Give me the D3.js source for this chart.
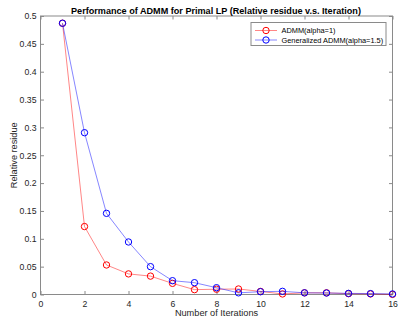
<!DOCTYPE html>
<html><head><meta charset="utf-8">
<script src="https://cdn.jsdelivr.net/npm/d3@7"></script>
<style>body{margin:0;background:#fff;}svg{display:block;font-family:"Liberation Sans",Arial,sans-serif;}</style>
</head><body><svg id="c" width="398" height="327"></svg>
<script>
const iterations = [1,2,3,4,5,6,7,8,9,10,11,12,13,14,15,16];
const admm = [0.487,0.122,0.053,0.037,0.033,0.020,0.0087,0.0095,0.0099,0.0055,0.001,0.003,0.003,0.0015,0.001,0.0002];
const genAdmm = [0.487,0.2905,0.1457,0.0943,0.050,0.0248,0.0212,0.0122,0.003,0.005,0.0057,0.003,0.0027,0.002,0.0016,0.001];
const xTicks = [0,2,4,6,8,10,12,14,16];
const yTicks = [0,0.05,0.1,0.15,0.2,0.25,0.3,0.35,0.4,0.45,0.5];
const seriesNames = ["ADMM(alpha=1)","Generalized ADMM(alpha=1.5)"];
const seriesColors = ["#ff0000","#0000ff"];

const svg = d3.select("#c");
const L=40.5,R=392.5,T=16,B=294.5;
const x = d3.scaleLinear().domain([0,16]).range([L,R]);
const y = d3.scaleLinear().domain([0,0.5]).range([B,T]);
const axCol="#262626", tl=3.5;

const g = svg.append("g");
const xa = d3.axisBottom(x).tickValues(xTicks).tickSize(-tl).tickPadding(6).tickFormat(d3.format("d"));
const ya = d3.axisLeft(y).tickValues(yTicks).tickSize(-tl).tickPadding(4).tickFormat(d=>d===0?"0":String(+d.toFixed(2)));
const xt = d3.axisTop(x).tickValues(xTicks).tickSize(-tl).tickFormat("");
const yr = d3.axisRight(y).tickValues(yTicks).tickSize(-tl).tickFormat("");
function style(sel){sel.select(".domain").remove();sel.selectAll("line").attr("stroke","#8a8a8a");sel.selectAll("text").attr("fill",axCol).attr("font-size","8.7px").attr("font-family","Liberation Sans, Arial, sans-serif");}
g.append("g").attr("transform",`translate(0,${B})`).call(xa).call(style);
g.append("g").attr("transform",`translate(${L},0)`).call(ya).call(style);
g.append("g").attr("transform",`translate(0,${T})`).call(xt).call(style);
g.append("g").attr("transform",`translate(${R},0)`).call(yr).call(style);
g.append("rect").attr("x",L).attr("y",T).attr("width",R-L).attr("height",B-T).attr("fill","none").attr("stroke","#8a8a8a").attr("stroke-width",1);

const data=[admm,genAdmm];
const line=d3.line().x((d,i)=>x(iterations[i])).y(d=>y(d));
data.forEach((s,k)=>{
  g.append("path").datum(s).attr("d",line).attr("fill","none").attr("stroke",seriesColors[k]).attr("stroke-width",0.6).attr("stroke-opacity",0.8);
  g.selectAll(null).data(s).enter().append("circle").attr("cx",(d,i)=>x(iterations[i])).attr("cy",d=>y(d)).attr("r",3.2).attr("fill","none").attr("stroke",seriesColors[k]).attr("stroke-width",1);
});

svg.append("text").attr("x",(L+R)/2-0.5).attr("y",14).attr("text-anchor","middle").attr("font-size","9.1px").attr("font-weight","bold").attr("fill","#000").text("Performance of ADMM for Primal LP (Relative residue v.s. Iteration)");
svg.append("text").attr("x",(L+R)/2).attr("y",316).attr("text-anchor","middle").attr("font-size","9.2px").attr("fill",axCol).text("Number of Iterations");
svg.append("text").attr("transform",`translate(17,${(T+B)/2}) rotate(-90)`).attr("text-anchor","middle").attr("font-size","9.2px").attr("fill",axCol).text("Relative residue");

const lg=svg.append("g");
lg.append("rect").attr("x",251).attr("y",22.5).attr("width",135).attr("height",23).attr("fill","#fff").attr("stroke","#8a8a8a").attr("stroke-width",1);
seriesNames.forEach((n,k)=>{
  const yy=30.5+k*9.5;
  lg.append("line").attr("x1",255).attr("x2",277).attr("y1",yy).attr("y2",yy).attr("stroke",seriesColors[k]).attr("stroke-width",0.6).attr("stroke-opacity",0.8);
  lg.append("circle").attr("cx",266).attr("cy",yy).attr("r",3.2).attr("fill","none").attr("stroke",seriesColors[k]).attr("stroke-width",1);
  lg.append("text").attr("x",281.5).attr("y",yy+2.7).attr("font-size","7.4px").attr("fill","#000").text(n);
});
</script></body></html>
